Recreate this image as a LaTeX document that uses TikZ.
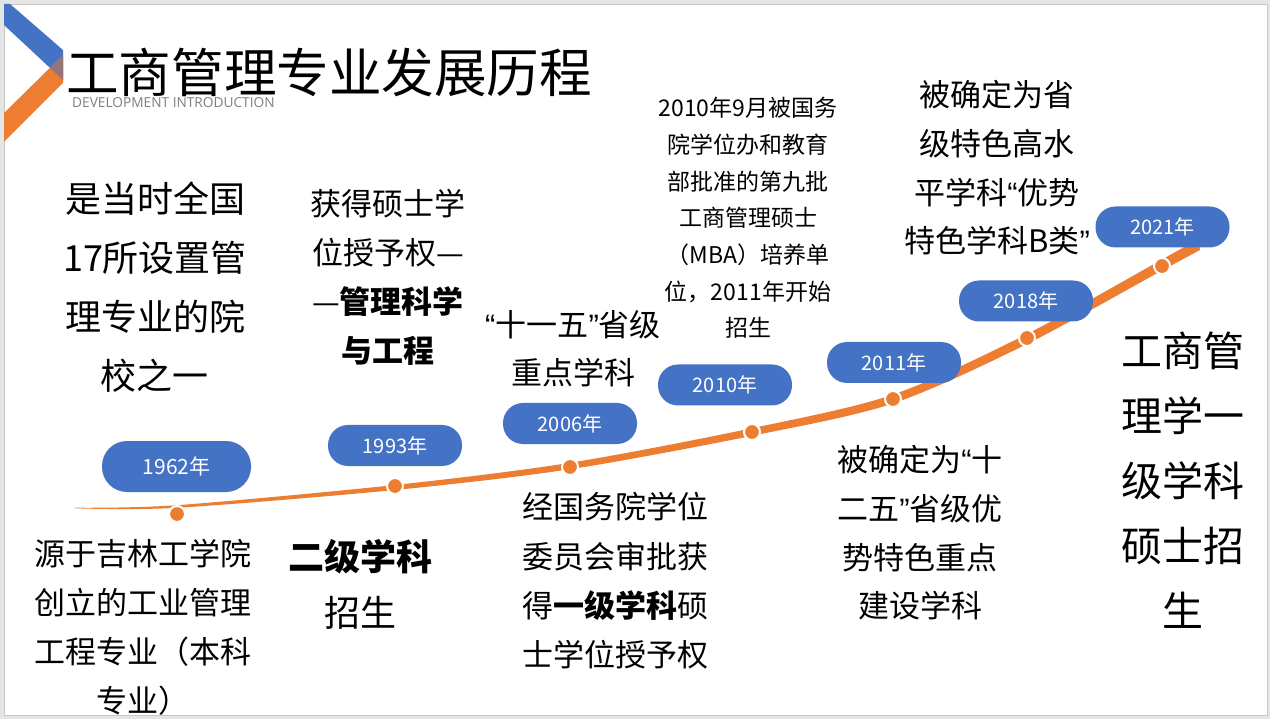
\documentclass[tikz,border=0pt]{standalone}
\usepackage{fontspec}
\setmainfont{Noto Sans CJK SC}
\newfontfamily\latinsub{Open Sans}
\newfontfamily\quotefont{Liberation Sans}
\newcommand\oqt{{\quotefont “}}
\newcommand\cqt{{\quotefont ”}}
\definecolor{pblue}{HTML}{4472C4}
\definecolor{porange}{HTML}{ED7D31}
\definecolor{pmauve}{RGB}{147,118,122}
\definecolor{subgray}{HTML}{7F7F7F}
\tikzset{
  pill/.style={fill=pblue, rounded corners=20pt, minimum width=134pt, minimum height=41pt, inner sep=0pt, text=white, font=\fontsize{20}{20}\selectfont},
  dotm/.style={circle, fill=porange, draw=white, line width=2pt, minimum size=16pt, inner sep=0pt},
  blk/.style={align=center, inner sep=0pt, text=black},
}
\begin{document}
\begin{tikzpicture}[x=1pt,y=-1pt]
\useasboundingbox (0,0) rectangle (1270,719);
\fill[black!10] (0,0) rectangle (1270,719);
\fill[white, draw=black!22, line width=0.8pt] (4,4) rectangle (1267,715);
% logo
\fill[pblue] (4,4) -- (10,4) -- (63,50) -- (63,80) -- (4,25) -- cycle;
\fill[porange] (4,113) -- (63,55) -- (63,83) -- (4,142) -- cycle;
\fill[pmauve] (50,68) -- (63,55) -- (63,80) -- cycle;
\node[anchor=west, inner sep=0pt, font=\fontsize{52.6}{53}\selectfont] (title) at (66,72) {工商管理专业发展历程};
\node[anchor=west, inner sep=0pt, text=subgray, font=\latinsub\fontsize{13.7}{14}\selectfont] (sub) at (72,103) {DEVELOPMENT INTRODUCTION};
% tapered curve
\fill[porange] plot[smooth] coordinates {(75,507.7) (177,505.2) (395,485) (570,462.8) (752,428.2) (893,394.6) (1027,334) (1162,259.5) (1198,239)}
  -- plot[smooth] coordinates {(1200,250) (1162,270.5) (1027,344) (893,403.4) (752,435.8) (570,469.2) (395,490) (177,507.8) (75,508.3)} -- cycle;
% dots
\node[dotm] (d1) at (177,514) {};
\node[dotm] (d2) at (395,486) {};
\node[dotm] (d3) at (570,467) {};
\node[dotm] (d4) at (752,432) {};
\node[dotm] (d5) at (893,399) {};
\node[dotm] (d6) at (1027,338) {};
\node[dotm] (d7) at (1162,266) {};
% pills
\node[pill, minimum width=149pt, minimum height=51pt, rounded corners=25pt, font=\fontsize{21}{21}\selectfont] (y1962) at (176.5,466.5) {1962年};
\node[pill] (y1993) at (395,445.5) {1993年};
\node[pill] (y2006) at (570,423.5) {2006年};
\node[pill] (y2010) at (725,385) {2010年};
\node[pill] (y2011) at (894,362.5) {2011年};
\node[pill] (y2018) at (1026,301) {2018年};
\node[pill] (y2021) at (1162.5,227) {2021年};
% texts
\node[blk, font=\fontsize{36}{59}\selectfont] (t1) at (155,287) {是当时全国\\17所设置管\\理专业的院\\校之一};
\node[blk, font=\fontsize{31}{49}\selectfont] (t2) at (388,277) {获得硕士学\\位授予权—\\—\textbf{管理科学}\\\textbf{与工程}};
\node[blk, font=\fontsize{31}{48}\selectfont] (t3) at (573,349) {\oqt 十一五\cqt 省级\\重点学科};
\node[blk, font=\fontsize{23}{36.7}\selectfont] (t4) at (748,218) {2010年9月被国务\\院学位办和教育\\部批准的第九批\\工商管理硕士\\（MBA）培养单\\位，2011年开始\\招生};
\node[blk, font=\fontsize{31}{48.7}\selectfont] (t5) at (997,168) {被确定为省\\级特色高水\\平学科\oqt 优势\\特色学科B类\cqt};
\node[blk, font=\fontsize{41}{65}\selectfont] (t6) at (1183,480) {工商管\\理学一\\级学科\\硕士招\\生};
\node[blk, font=\fontsize{31}{49}\selectfont] (t7) at (143,627) {源于吉林工学院\\创立的工业管理\\工程专业（本科\\专业）};
\node[blk, font=\fontsize{36}{56}\selectfont] (t8) at (360,584) {\textbf{二级学科}\\招生};
\node[blk, font=\fontsize{31}{49.3}\selectfont] (t9) at (615,581) {经国务院学位\\委员会审批获\\得\textbf{一级学科}硕\\士学位授予权};
\node[blk, font=\fontsize{31}{48.7}\selectfont] (t10) at (920,533) {被确定为\oqt 十\\二五\cqt 省级优\\势特色重点\\建设学科};
\end{tikzpicture}
\end{document}
